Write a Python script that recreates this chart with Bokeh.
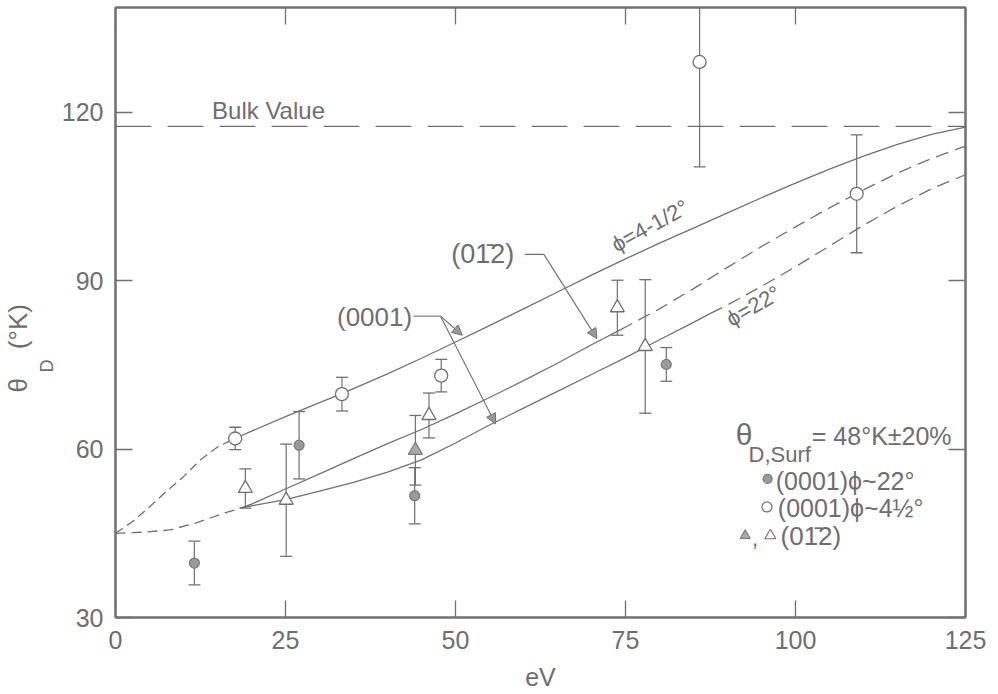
import math

from bokeh.embed import file_html
from bokeh.models import (Arrow, ColumnDataSource, FixedTicker, Label,
                          LinearAxis, NormalHead, Range1d, Span, Title)
from bokeh.plotting import figure
from bokeh.resources import INLINE

# ---- data: Debye temperature theta_D (K) versus electron energy (eV) ----
x_ticks = [0, 25, 50, 75, 100, 125]
y_ticks = [30, 60, 90, 120]
bulk_value = 117.5

# (0001), phi ~ 4 1/2 deg, open circles
open_circ_ev = [17.6, 33.3, 47.9, 85.9, 109.0]
open_circ_theta = [61.9, 69.8, 73.1, 129.0, 105.5]
open_circ_err = [2.0, 3.0, 2.9, 18.7, 10.5]

# (0001), phi ~ 22 deg, filled circles
fill_circ_ev = [11.6, 27.0, 44.0, 81.0]
fill_circ_theta = [39.7, 60.7, 51.7, 75.1]
fill_circ_err = [3.9, 6.0, 5.0, 3.0]

# (01-12), open triangles
open_tri_ev = [19.1, 25.1, 46.1, 73.8, 77.9]
open_tri_theta = [53.0, 50.9, 66.0, 85.2, 78.3]
open_tri_err = [3.5, 10.0, 4.0, 4.9, 11.9]

# (01-12), filled triangle
fill_tri_ev = [44.1]
fill_tri_theta = [59.8]
fill_tri_err = [6.2]

# calculated curves
upper_dash_ev = [0, 2.5, 5, 7.5, 10, 12.5, 15, 17.6]
upper_dash_theta = [45.0, 47.1, 49.7, 52.5, 55.1, 58.1, 60.4, 61.9]
upper_ev = [17.6, 20, 25, 30, 33.3, 40, 45, 50, 55, 60, 65, 70, 75, 80, 85,
            90, 95, 100, 105, 110, 115, 120, 125]
upper_theta = [61.9, 63.2, 65.8, 68.3, 69.9, 73.4, 76.2, 79.1, 82.0, 85.0,
               88.0, 91.0, 93.9, 96.7, 99.4, 102.1, 104.8, 107.4, 109.9,
               112.2, 114.3, 116.1, 117.4]

start_dash_ev = [0, 4, 8, 12, 16, 18.4]
start_dash_theta = [45.0, 45.2, 45.6, 46.9, 48.6, 49.5]

mid_ev = [18.4, 20, 25, 30, 35, 40, 45, 50, 55, 60, 65, 70, 74.3]
mid_theta = [49.5, 50.2, 52.9, 55.6, 58.3, 61.0, 63.5, 66.3, 69.2, 72.2,
             75.3, 78.6, 81.3]
mid_dash_ev = [74.3, 80, 85, 90, 95, 100, 105, 110, 115, 120, 125]
mid_dash_theta = [81.3, 85.0, 88.6, 92.4, 96.1, 99.6, 103.0, 106.2, 109.2,
                  111.8, 114.0]

low_ev = [18.4, 20, 25, 30, 35, 40, 45, 50, 55, 60, 65, 70, 75, 80, 85, 87.5]
low_theta = [49.5, 49.9, 51.0, 52.5, 54.1, 55.9, 58.1, 61.1, 64.3, 67.3,
             70.3, 73.3, 76.3, 79.5, 82.6, 84.2]
low_dash_ev = [87.5, 90, 95, 100, 105, 110, 115, 120, 125]
low_dash_theta = [84.2, 85.7, 89.0, 92.5, 96.2, 99.9, 103.3, 106.4, 108.9]

# ---- styling ----
INK = "#707070"
TXT = "#6e6e6e"
FONT = "Liberation Sans"

p = figure(width=998, height=694,
           x_range=Range1d(0, 125), y_range=Range1d(30, 138.7),
           min_border_left=115, min_border_right=33,
           min_border_top=7, min_border_bottom=77,
           output_backend="svg", toolbar_location=None,
           x_axis_label="eV")
p.background_fill_color = "white"
p.border_fill_color = "white"
p.outline_line_color = INK
p.outline_line_width = 2
p.grid.grid_line_color = None


def style_axis(ax, ticks, show_labels):
    ax.ticker = FixedTicker(ticks=ticks)
    ax.axis_line_color = INK
    ax.axis_line_width = 2
    ax.major_tick_line_color = INK
    ax.major_tick_line_width = 1.3
    ax.major_tick_in = 17
    ax.major_tick_out = 0
    ax.minor_tick_line_color = None
    if show_labels:
        ax.major_label_text_font = FONT
        ax.major_label_text_font_size = "25px"
        ax.major_label_text_color = TXT
    else:
        # tick marks only on the mirrored sides
        ax.major_label_text_color = None
        ax.major_label_text_font_size = "1px"
        ax.major_label_standoff = 0


style_axis(p.xaxis[0], x_ticks, True)
style_axis(p.yaxis[0], y_ticks, True)
p.xaxis[0].major_label_standoff = 13
p.yaxis[0].major_label_standoff = 12
p.xaxis[0].axis_label_text_font = FONT
p.xaxis[0].axis_label_text_font_size = "25px"
p.xaxis[0].axis_label_text_font_style = "normal"
p.xaxis[0].axis_label_text_color = TXT
p.xaxis[0].axis_label_standoff = 11

top_ax = LinearAxis()
style_axis(top_ax, x_ticks, False)
p.add_layout(top_ax, "above")
right_ax = LinearAxis()
style_axis(right_ax, y_ticks, False)
p.add_layout(right_ax, "right")

# y axis title: subscript "D" in the inner column, "theta (K)" outside it;
# no-break spaces leave room for the subscript
p.add_layout(Title(text="D", align="left", offset=245, standoff=4,
                   text_font=FONT, text_font_size="18px",
                   text_font_style="normal", text_color=TXT), "left")
p.add_layout(Title(text="\u03b8\u00a0\u00a0\u00a0\u00a0(\u00b0K)",
                   align="left", offset=225, standoff=0,
                   text_font=FONT, text_font_size="26px",
                   text_font_style="normal", text_color=TXT), "left")

# bulk value reference line
p.add_layout(Span(location=bulk_value, dimension="width", line_color=INK,
                  line_width=1.3, line_dash="36 16"))

# curves
p.line(upper_dash_ev, upper_dash_theta, line_color=INK, line_width=1.3,
       line_dash="9 5")
p.line(upper_ev, upper_theta, line_color=INK, line_width=1.3)
p.line(start_dash_ev, start_dash_theta, line_color=INK, line_width=1.3,
       line_dash="10 6")
p.line(mid_ev, mid_theta, line_color=INK, line_width=1.3)
p.line(mid_dash_ev, mid_dash_theta, line_color=INK, line_width=1.3,
       line_dash="13 7")
p.line(low_ev, low_theta, line_color=INK, line_width=1.3)
p.line(low_dash_ev, low_dash_theta, line_color=INK, line_width=1.3,
       line_dash="13 7")


def error_bars(xs, ys, errs):
    lo = [y - e for y, e in zip(ys, errs)]
    hi = [y + e for y, e in zip(ys, errs)]
    src = ColumnDataSource(dict(x=xs, lo=lo, hi=hi))
    p.segment(x0="x", y0="lo", x1="x", y1="hi", source=src,
              line_color=INK, line_width=1.2)
    p.scatter("x", "lo", source=src, marker="dash", size=12,
              line_color=INK, line_width=1.3)
    p.scatter("x", "hi", source=src, marker="dash", size=12,
              line_color=INK, line_width=1.3)


error_bars(open_circ_ev, open_circ_theta, open_circ_err)
error_bars(fill_circ_ev, fill_circ_theta, fill_circ_err)
error_bars(open_tri_ev, open_tri_theta, open_tri_err)
error_bars(fill_tri_ev, fill_tri_theta, fill_tri_err)

p.scatter(open_circ_ev, open_circ_theta, marker="circle", size=13,
          fill_color="white", line_color=INK, line_width=1.3)
p.scatter(fill_circ_ev, fill_circ_theta, marker="circle", size=10,
          fill_color="#9a9a9a", line_color="#7a7a7a", line_width=1.2)
p.scatter(open_tri_ev, open_tri_theta, marker="triangle", size=14,
          fill_color="white", line_color=INK, line_width=1.3)
p.scatter(fill_tri_ev, fill_tri_theta, marker="triangle", size=14,
          fill_color="#a8a8a8", line_color="#7a7a7a", line_width=1.2)


def txt(x, y, s, size=24, align="center", angle=0.0, baseline="middle"):
    p.add_layout(Label(x=x, y=y, text=s, text_font=FONT,
                       text_font_size=f"{size}px", text_color=TXT,
                       text_align=align, text_baseline=baseline,
                       angle=angle))


# in-plot annotations
txt(22.5, 120.4, "Bulk Value", 24)
txt(78.6, 99.8, "\u03d5=4-1/2\u00b0", 22, angle=math.radians(29))
txt(93.8, 85.5, "\u03d5=22\u00b0", 22, angle=math.radians(30))
txt(54.0, 94.7, "(01\u03042)", 27)
txt(38.1, 83.5, "(0001)", 26)

# leader lines and arrows
head = dict(size=10, fill_color="#999999", line_color=INK, line_width=1)
p.line([60.2, 63.0], [94.7, 94.7], line_color=INK, line_width=1.1)
p.add_layout(Arrow(x_start=63.0, y_start=94.7, x_end=70.8, y_end=79.7,
                   line_color=INK, line_width=1.1, end=NormalHead(**head)))
p.line([43.8, 47.8], [83.7, 83.7], line_color=INK, line_width=1.1)
p.add_layout(Arrow(x_start=47.8, y_start=83.7, x_end=51.0, y_end=80.3,
                   line_color=INK, line_width=1.1, end=NormalHead(**head)))
p.add_layout(Arrow(x_start=47.8, y_start=83.7, x_end=55.9, y_end=64.5,
                   line_color=INK, line_width=1.1, end=NormalHead(**head)))

# key
txt(91.2, 62.6, "\u03b8", 30, align="left")
txt(93.1, 59.0, "D,Surf", 22, align="left")
txt(102.4, 62.4, "= 48\u00b0K\u00b120%", 25, align="left")

p.scatter([95.9], [54.7], marker="circle", size=9, fill_color="#9a9a9a",
          line_color="#7a7a7a", line_width=1.2)
txt(97.1, 54.4, "(0001)\u03d5~22\u00b0", 25, align="left")
p.scatter([95.8], [49.7], marker="circle", size=10, fill_color="white",
          line_color=INK, line_width=1.2)
txt(97.4, 49.6, "(0001)\u03d5~4\u00bd\u00b0", 25, align="left")
p.scatter([92.6], [44.6], marker="triangle", size=10, fill_color="#a8a8a8",
          line_color="#7a7a7a", line_width=1.1)
txt(93.6, 44.0, ",", 22, align="left")
p.scatter([96.3], [44.6], marker="triangle", size=11, fill_color="white",
          line_color=INK, line_width=1.1)
txt(97.8, 44.6, "(01\u03042)", 26, align="left")

open("out.html", "w").write(file_html(p, INLINE))
